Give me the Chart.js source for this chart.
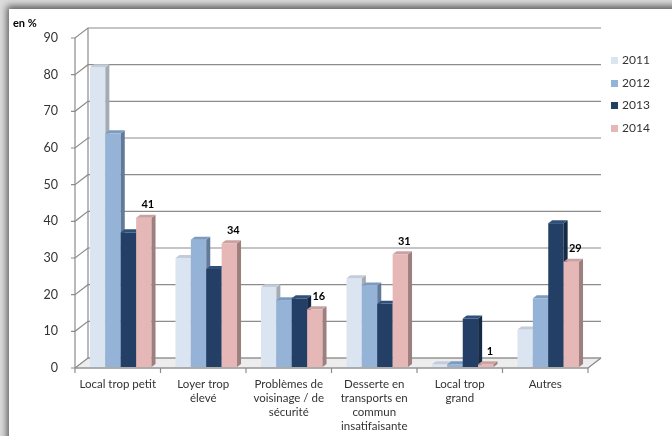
<!DOCTYPE html>
<html><head><meta charset="utf-8">
<script src="https://cdn.jsdelivr.net/npm/chart.js@4/dist/chart.umd.min.js"></script>
<style>
html,body{margin:0;padding:0;width:672px;height:436px;overflow:hidden;background:#dcdcdc}
#panel{position:absolute;left:9px;top:9px;width:720px;height:480px;background:#fff;box-shadow:-2px -3px 7px rgba(0,0,0,0.6)}
#wrap{position:absolute;left:0;top:0;width:672px;height:436px}
#unit{position:absolute;left:13px;top:16px;font:bold 11px Lato,sans-serif;color:#000}
#legend{position:absolute;left:611px;top:51px;font:12px Lato,sans-serif;color:#333}
#legend div{height:22.7px;line-height:18px;white-space:nowrap}
#legend span{display:inline-block;width:7px;height:7px;margin-right:4px;vertical-align:0px}
</style></head>
<body>
<div id="panel"></div>
<div id="wrap"><canvas id="c" width="672" height="436"></canvas></div>
<div id="unit">en %</div>
<div id="legend"></div>
<script>
const categories = [["Local trop petit"],["Loyer trop","élevé"],["Problèmes de","voisinage / de","sécurité"],["Desserte en","transports en","commun","insatifaisante"],["Local trop","grand"],["Autres"]];
const years = ["2011","2012","2013","2014"];
const v2011 = [82, 30, 22, 24.5, 1, 10.5];
const v2012 = [64, 35, 18.5, 22.5, 1, 19];
const v2013 = [37, 27, 19, 17.5, 13.5, 39.5];
const v2014 = [41, 34, 16, 31, 1, 29];
const yTicks = [0,10,20,30,40,50,60,70,80,90];

const fronts = ["#dbe5f1","#95b3d7","#233f66","#e5b8b7"];
const sides  = ["#a4abb5","#61799a","#152a45","#9d7f7e"];
const tops   = ["#c3ccd8","#7c9bc1","#30507c","#caa2a1"];

const WALL_DX = 13, WALL_DY = -10, BAR_DX = 4, BAR_DY = -3, GROUP_SHIFT = 3;

const lg = document.getElementById('legend');
years.forEach((y,i)=>{ const d=document.createElement('div'); d.innerHTML='<span style="background:'+fronts[i]+'"></span>'+y; lg.appendChild(d); });

const threeD = {
  id:'threeD',
  beforeDatasetsDraw(chart){
    const ctx = chart.ctx, ys = chart.scales.y, a = chart.chartArea;
    const x0 = a.left, x1 = a.right, yb = ys.getPixelForValue(0);
    ctx.save();
    ctx.beginPath();
    ctx.moveTo(x0, yb); ctx.lineTo(x0+WALL_DX, yb+WALL_DY); ctx.lineTo(x1+WALL_DX, yb+WALL_DY); ctx.lineTo(x1, yb); ctx.closePath();
    ctx.fillStyle = '#ededed'; ctx.fill();
    ctx.strokeStyle = '#a6a6a6'; ctx.lineWidth = 1; ctx.stroke();
    ctx.strokeStyle = '#8c8c8c'; ctx.lineWidth = 1.2;
    yTicks.forEach(v=>{
      const y = ys.getPixelForValue(v);
      ctx.beginPath();
      ctx.moveTo(x0-4, y); ctx.lineTo(x0, y); ctx.lineTo(x0+WALL_DX, y+WALL_DY); ctx.lineTo(x1+WALL_DX, y+WALL_DY);
      ctx.stroke();
    });
    ctx.beginPath();
    ctx.moveTo(x0+WALL_DX, ys.getPixelForValue(90)+WALL_DY); ctx.lineTo(x0+WALL_DX, yb+WALL_DY);
    ctx.moveTo(x0, ys.getPixelForValue(90)); ctx.lineTo(x0, yb);
    ctx.moveTo(x0, yb); ctx.lineTo(x1, yb); ctx.lineTo(x1+WALL_DX, yb+WALL_DY);
    ctx.stroke();
    const n = categories.length, cw = (x1-x0)/n;
    for(let i=0;i<=n;i++){ const x = x0 + i*cw; ctx.beginPath(); ctx.moveTo(x, yb); ctx.lineTo(x, yb+5); ctx.stroke(); }
    ctx.restore();
  },
  afterDatasetsDraw(chart){
    const ctx = chart.ctx;
    ctx.save();
    for(let i=0;i<4;i++){
      const meta = chart.getDatasetMeta(i);
      meta.data.forEach(b=>{
        const l = b.x - b.width/2 + GROUP_SHIFT, r = b.x + b.width/2 + GROUP_SHIFT, t = b.y, base = b.base - 1;
        ctx.fillStyle = fronts[i]; ctx.fillRect(l, t, r-l, base-t);
        ctx.beginPath();
        ctx.moveTo(r, t); ctx.lineTo(r+BAR_DX, t+BAR_DY); ctx.lineTo(r+BAR_DX, base+BAR_DY); ctx.lineTo(r, base); ctx.closePath();
        ctx.fillStyle = sides[i]; ctx.fill();
        ctx.beginPath();
        ctx.moveTo(l, t); ctx.lineTo(l+BAR_DX, t+BAR_DY); ctx.lineTo(r+BAR_DX, t+BAR_DY); ctx.lineTo(r, t); ctx.closePath();
        ctx.fillStyle = tops[i]; ctx.fill();
      });
    }
    const meta = chart.getDatasetMeta(3);
    ctx.font = 'bold 11px Lato, sans-serif'; ctx.fillStyle = '#000'; ctx.textAlign = 'center'; ctx.textBaseline = 'middle';
    meta.data.forEach((b,j)=>{ ctx.fillText(String(v2014[j]), b.x + GROUP_SHIFT + 4, b.y - 13); });
    ctx.restore();
  }
};

const series = [v2011, v2012, v2013, v2014];
new Chart(document.getElementById('c'), {
  type:'bar',
  data:{
    labels: categories,
    datasets: series.map((d,i)=>({label:years[i], data:d, backgroundColor:'rgba(0,0,0,0)', borderWidth:0, categoryPercentage:0.72, barPercentage:1.0}))
  },
  options:{
    responsive:false, animation:false,
    layout:{padding:{left:0,top:38,right:84,bottom:0}},
    plugins:{legend:{display:false}, tooltip:{enabled:false}},
    scales:{
      x:{grid:{display:false}, border:{display:false},
         ticks:{color:'#333', font:{family:'Lato', size:11.5, lineHeight:1.22}, padding:1, maxRotation:0, autoSkip:false},
         afterFit(s){ s.height = 68; }},
      y:{min:0, max:90, grid:{display:false}, border:{display:false},
         ticks:{stepSize:10, color:'#333', font:{family:'Lato', size:12.5}, padding:9},
         afterFit(s){ s.width = 75; }}
    }
  },
  plugins:[threeD]
});
</script>
</body></html>
